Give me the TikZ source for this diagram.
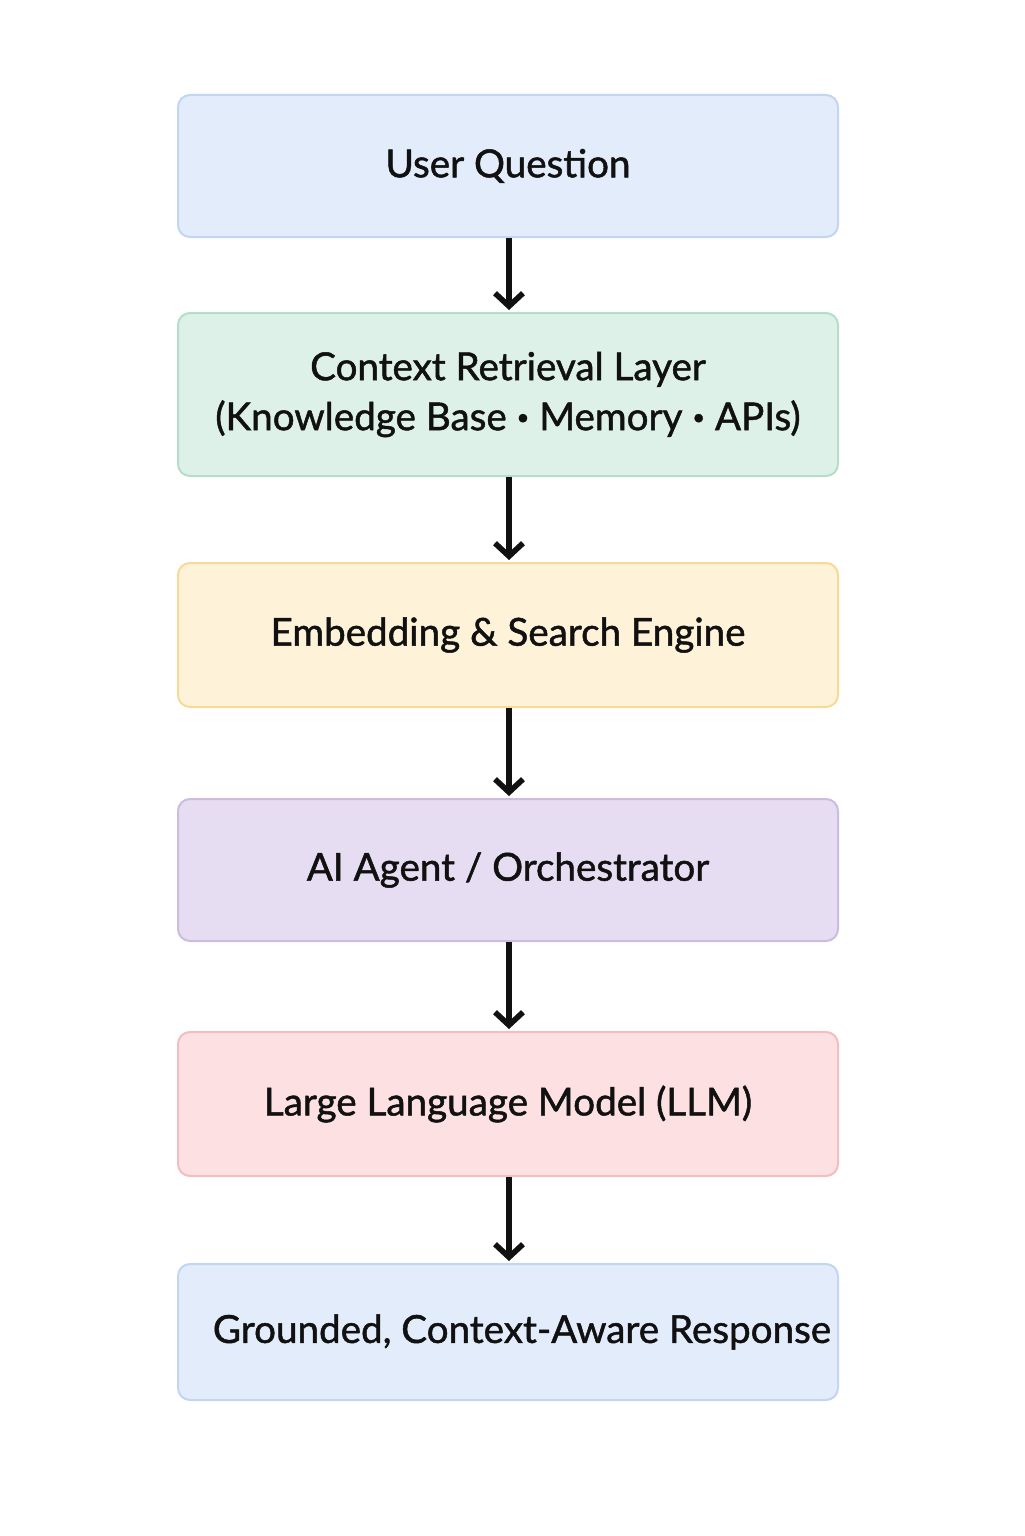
\documentclass[tikz,border=0pt]{standalone}
\usepackage{fontspec}
\setmainfont{Lato}
\newfontfamily\layerfont{Lato}[FakeBold=1.3]
\usetikzlibrary{arrows.meta, positioning}
\definecolor{blueFill}{HTML}{E3ECFB}
\definecolor{blueLine}{HTML}{C3D5F5}
\definecolor{greenFill}{HTML}{DDF1E8}
\definecolor{greenLine}{HTML}{B5DEC9}
\definecolor{yellowFill}{HTML}{FEF3D9}
\definecolor{yellowLine}{HTML}{F8D995}
\definecolor{purpleFill}{HTML}{E7DDF2}
\definecolor{purpleLine}{HTML}{CBBCE2}
\definecolor{redFill}{HTML}{FDE1E2}
\definecolor{redLine}{HTML}{F4BDC0}
\definecolor{inkText}{HTML}{111111}
\newcommand{\sepdot}{\raisebox{0.28ex}{\fontsize{11}{11}\selectfont •}}

\begin{document}
\begin{tikzpicture}[
    x=0.5pt, y=-0.5pt,
    layer/.style={draw, line width=1pt, rounded corners=6pt, minimum width=330pt,
        align=center, text=inkText, font=\layerfont\fontsize{19.3}{25}\selectfont},
    flow/.style={-{Straight Barb[length=6.5pt, width=14pt]}, line width=2.8pt, inkText}
]
% Page frame
\useasboundingbox[fill=white] (0,0) rectangle (1024,1536);
% Stack of layers
\node[layer, fill=blueFill, draw=blueLine, minimum height=71pt] (question) at (508,166) {User Question};
\node[layer, fill=greenFill, draw=greenLine, minimum height=81.5pt] (retrieval) at (508,394.5)
    {Context Retrieval Layer\\(Knowledge Base \sepdot{} Memory \sepdot{} APIs)};
\node[layer, fill=yellowFill, draw=yellowLine, minimum height=72pt] (search) at (508,635) {Embedding \& Search Engine};
\node[layer, fill=purpleFill, draw=purpleLine, minimum height=71pt] (agent) at (508,870) {AI Agent / Orchestrator};
\node[layer, fill=redFill, draw=redLine, minimum height=72pt] (llm) at (508,1104) {Large Language Model (LLM)};
\node[layer, fill=blueFill, draw=blueLine, minimum height=68pt] (response) at (508,1332)
    {\hspace*{14pt}Grounded, Context-Aware Response};
% Arrows between layers
\foreach \a/\b in {question/retrieval, retrieval/search, search/agent, agent/llm, llm/response} {
    \draw[flow] (\a.south) ++(1,0) -- ([xshift=0.5pt, yshift=1pt]\b.north);
}
\end{tikzpicture}
\end{document}
